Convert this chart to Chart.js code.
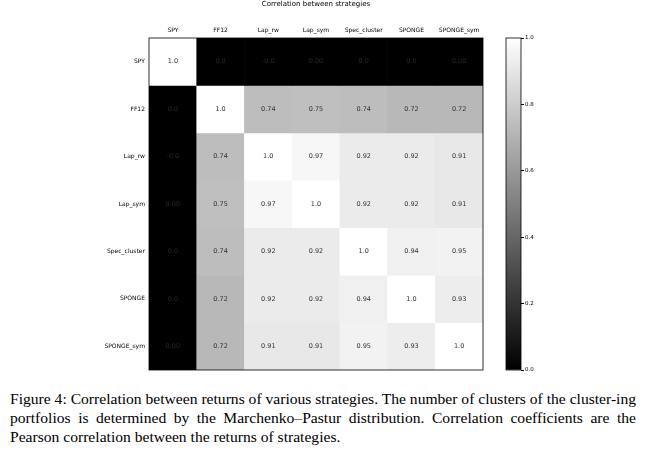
<!DOCTYPE html>
<html>
<head>
<meta charset="utf-8">
<script src="https://cdn.jsdelivr.net/npm/chart.js@4"></script>
<style>
  body { margin: 0; background: #fff; width: 645px; height: 454px; position: relative; overflow: hidden; }
  #heat { position: absolute; left: 0; top: 0; }
  #cbar { position: absolute; left: 500px; top: 0; }
  #caption { position: absolute; left: 10px; top: 389px; width: 626px; font-family: "Liberation Serif", "DejaVu Serif", serif;
    font-size: 15.6px; line-height: 19px; text-align: justify; color: #000; }
</style>
</head>
<body>
<canvas id="heat" width="490" height="380" style="width:490px;height:380px"></canvas>
<canvas id="cbar" width="45" height="380" style="width:45px;height:380px"></canvas>
<div id="caption">Figure 4: Correlation between returns of various strategies. The number of clusters of the cluster-ing portfolios is determined by the Marchenko–Pastur distribution. Correlation coefficients are the Pearson correlation between the returns of strategies.</div>
<script>
const strategies = ['SPY', 'FF12', 'Lap_rw', 'Lap_sym', 'Spec_cluster', 'SPONGE', 'SPONGE_sym'];
const corr = [
  [1.0, 0.0, 0.0, 0.0, 0.0, 0.0, 0.0],
  [0.0, 1.0, 0.74, 0.75, 0.74, 0.72, 0.72],
  [0.0, 0.74, 1.0, 0.97, 0.92, 0.92, 0.91],
  [0.0, 0.75, 0.97, 1.0, 0.92, 0.92, 0.91],
  [0.0, 0.74, 0.92, 0.92, 1.0, 0.94, 0.95],
  [0.0, 0.72, 0.92, 0.92, 0.94, 1.0, 0.93],
  [0.0, 0.72, 0.91, 0.91, 0.95, 0.93, 1.0]
];
const cellLabels = [
  ['1.0', '0.0', '-0.0', '0.00', '0.0', '0.0', '0.00'],
  ['0.0', '1.0', '0.74', '0.75', '0.74', '0.72', '0.72'],
  ['-0.0', '0.74', '1.0', '0.97', '0.92', '0.92', '0.91'],
  ['0.00', '0.75', '0.97', '1.0', '0.92', '0.92', '0.91'],
  ['0.0', '0.74', '0.92', '0.92', '1.0', '0.94', '0.95'],
  ['0.0', '0.72', '0.92', '0.92', '0.94', '1.0', '0.93'],
  ['0.00', '0.72', '0.91', '0.91', '0.95', '0.93', '1.0']
];
const cbarTicks = [0.0, 0.2, 0.4, 0.6, 0.8, 1.0];

const TICK_FONT = { family: 'DejaVu Sans', size: 6 };
const n = strategies.length;

function grey(v) {
  const g = Math.round(Math.max(0, Math.min(1, v)) * 255);
  return `rgb(${g},${g},${g})`;
}

// one dataset per row, floating bars spanning [row, row+1] from the top
const datasets = corr.map((row, i) => ({
  label: strategies[i],
  data: row.map(() => [n - 1 - i, n - i]),
  backgroundColor: row.map(v => grey(v)),
  borderWidth: 0,
  grouped: false,
  barPercentage: 1,
  categoryPercentage: 1
}));

const cellText = {
  id: 'cellText',
  afterDatasetsDraw(chart) {
    const ctx = chart.ctx;
    ctx.save();
    ctx.font = '6.5px "DejaVu Sans"';
    ctx.textAlign = 'center';
    ctx.textBaseline = 'middle';
    chart.data.datasets.forEach((ds, i) => {
      chart.getDatasetMeta(i).data.forEach((bar, j) => {
        const p = bar.getProps(['x', 'y', 'base'], true);
        ctx.fillStyle = corr[i][j] < 0.3 ? '#262626' : '#333';
        ctx.fillText(cellLabels[i][j], p.x, (p.y + p.base) / 2);
      });
    });
    const a = chart.chartArea;
    ctx.strokeStyle = '#000';
    ctx.lineWidth = 0.8;
    ctx.strokeRect(a.left, a.top, a.right - a.left, a.bottom - a.top);
    ctx.restore();
  }
};

new Chart(document.getElementById('heat'), {
  type: 'bar',
  data: { labels: strategies, datasets },
  options: {
    responsive: false,
    animation: false,
    layout: { padding: { left: 0, right: 7, top: 0, bottom: 10 } },
    plugins: { legend: { display: false }, tooltip: { enabled: false } },
    scales: {
      x: {
        position: 'top',
        grid: { display: false, drawTicks: true, tickLength: 3, tickColor: '#000' },
        border: { display: false },
        ticks: { color: '#000', font: TICK_FONT, padding: 1, maxRotation: 0 },
        title: { display: true, text: 'Correlation between strategies', color: '#000', font: { family: 'DejaVu Sans', size: 7 }, padding: { top: 0, bottom: 0 } },
        afterFit: s => { s.height = 38; }
      },
      y: {
        min: 0, max: n,
        grid: { display: false, drawTicks: true, tickLength: 3, tickColor: '#000' },
        border: { display: false },
        afterBuildTicks: s => { s.ticks = strategies.map((_, i) => ({ value: n - i - 0.5 })); },
        ticks: {
          color: '#000', font: TICK_FONT, padding: 1,
          callback: v => strategies[Math.round(n - 0.5 - v)]
        },
        afterFit: s => { s.width = 149; }
      }
    }
  },
  plugins: [cellText]
});

new Chart(document.getElementById('cbar'), {
  type: 'bar',
  data: {
    labels: [''],
    datasets: [{
      data: [[0, 1]],
      borderWidth: 0,
      barPercentage: 1,
      categoryPercentage: 1,
      backgroundColor: c => {
        const a = c.chart.chartArea;
        if (!a) return '#888';
        const g = c.chart.ctx.createLinearGradient(0, a.bottom, 0, a.top);
        g.addColorStop(0, '#000');
        g.addColorStop(1, '#fff');
        return g;
      }
    }]
  },
  options: {
    responsive: false,
    animation: false,
    layout: { padding: { left: 6, right: 0, top: 38, bottom: 10 } },
    plugins: { legend: { display: false }, tooltip: { enabled: false } },
    scales: {
      x: { display: false },
      y: {
        position: 'right', min: 0, max: 1,
        grid: { drawOnChartArea: false, tickLength: 3, tickColor: '#000' },
        border: { display: false },
        afterBuildTicks: s => { s.ticks = cbarTicks.map(v => ({ value: v })); },
        ticks: { color: '#000', font: { family: 'DejaVu Sans', size: 5.5 }, padding: 1, callback: v => v.toFixed(1) },
        afterFit: s => { s.width = 24; }
      }
    }
  },
  plugins: [{
    id: 'frame',
    afterDatasetsDraw(chart) {
      const a = chart.chartArea, ctx = chart.ctx;
      ctx.save();
      ctx.strokeStyle = '#000';
      ctx.lineWidth = 0.8;
      ctx.strokeRect(a.left, a.top, a.right - a.left, a.bottom - a.top);
      ctx.restore();
    }
  }]
});
</script>
</body>
</html>
